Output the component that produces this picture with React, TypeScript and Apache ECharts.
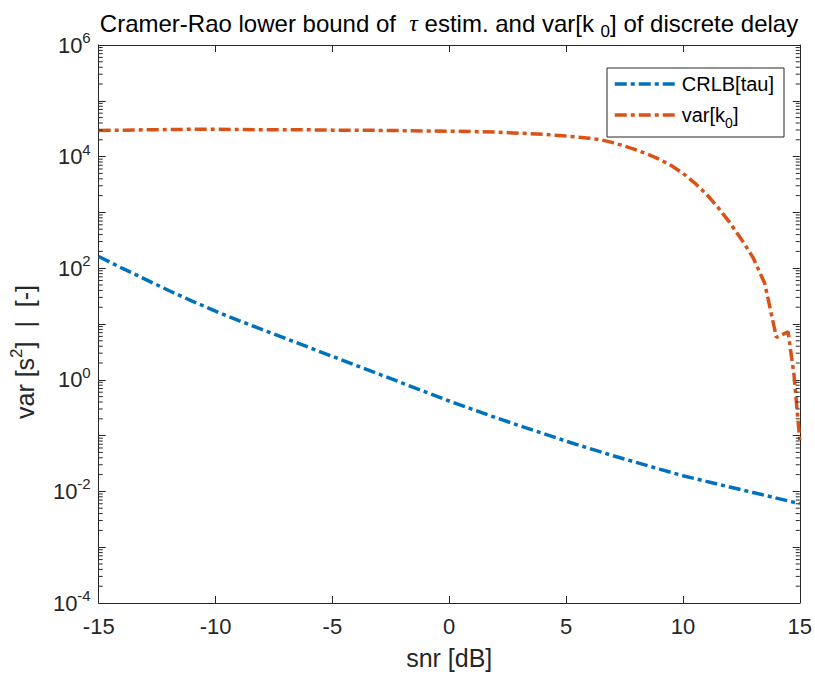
import React, { useEffect, useRef } from 'react';
import * as echarts from 'echarts';

// SNR grid and CRLB of tau
const snrCrlb = [-15, -14, -13, -12, -11, -10, -9, -8, -7, -6, -5, -4, -3, -2, -1, 0, 1, 2, 3, 4, 5, 6, 7, 8, 9, 10, 11, 12, 13, 14, 15];
const crlbTau = [162, 100, 63.1, 39.8, 25.7, 17.0, 11.5, 7.94, 5.5, 3.8, 2.63, 1.82, 1.26, 0.871, 0.603, 0.417, 0.295, 0.209, 0.151, 0.11, 0.0794, 0.0589, 0.0437, 0.0331, 0.0251, 0.0191, 0.0151, 0.012, 0.00955, 0.00759, 0.00603];

// SNR grid and variance of discrete delay k0
const snrK0 = [-15, -14, -13, -12, -11, -10, -9, -8, -7, -6, -5, -4, -3, -2, -1, 0, 1, 2, 3, 4, 5, 6, 6.5, 7, 7.5, 8, 8.5, 9, 9.5, 10, 10.5, 11, 11.5, 12, 12.5, 13, 13.5, 14, 14.5, 14.75, 15];
const varK0 = [29500, 29800, 30200, 30500, 30900, 30900, 30500, 30200, 30200, 30200, 29800, 29800, 29500, 29200, 28800, 28500, 28200, 27500, 26300, 25100, 23400, 21400, 20000, 17800, 15500, 13200, 11000, 8900, 6920, 5010, 3390, 2140, 1230, 661, 331, 155, 53.7, 5.75, 7.24, 1.26, 0.083];

const xTicks = [-15, -10, -5, 0, 5, 10, 15];
const yDecadeMin = -4;
const yDecadeMax = 6;

const FONT = '"Liberation Sans", Arial, Helvetica, sans-serif';
const AX = '#262626';
const BLUE = '#0072BD';
const ORANGE = '#D95319';

export default function App() {
  const ref = useRef<HTMLDivElement>(null);
  useEffect(() => {
    const chart = echarts.init(ref.current!, null, { renderer: 'svg' });
    const minorTicks: number[][] = [];
    for (let e = yDecadeMin; e < yDecadeMax; e++) {
      for (let m = 2; m <= 9; m++) minorTicks.push([xTicks[0], e + Math.log10(m)]);
    }
    const dash = [12, 4, 4, 4];
    chart.setOption({
      animation: false,
      backgroundColor: '#fff',
      title: {
        text: 'Cramer-Rao lower bound of  {it|τ} estim. and var[k {sub|0}] of discrete delay',
        left: 444,
        textAlign: 'center',
        top: 1,
        textStyle: {
          fontFamily: FONT,
          fontSize: 24,
          fontWeight: 'normal',
          color: '#000',
          lineHeight: 34,
          rich: {
            it: { fontFamily: '"Liberation Serif", "DejaVu Serif", serif', fontStyle: 'italic', fontSize: 24, color: '#000' },
            sub: { fontSize: 17, lineHeight: 17, verticalAlign: 'bottom', fontFamily: FONT, color: '#000' },
          },
        },
      },
      legend: {
        orient: 'vertical',
        left: 607,
        top: 68,
        data: ['CRLB[tau]', 'var[k_0]'],
        formatter: (n: string) => (n === 'var[k_0]' ? 'var[k{sub|0}]' : n),
        itemWidth: 62,
        itemHeight: 14,
        itemGap: 1,
        padding: [1, 10, 7, 6],
        borderColor: AX,
        borderWidth: 1,
        backgroundColor: '#fff',
        borderRadius: 0,
        itemStyle: { color: 'rgba(0,0,0,0)', borderWidth: 0, opacity: 0 },
        lineStyle: { width: 3.5 },
        textStyle: {
          fontFamily: FONT,
          fontSize: 20,
          color: '#000',
          lineHeight: 30,
          rich: { sub: { fontSize: 14, lineHeight: 14, verticalAlign: 'bottom', fontFamily: FONT, color: '#000' } },
        },
      },
      grid: { left: 96, right: 14, top: 45, bottom: 72, containLabel: false },
      xAxis: [
        {
          type: 'value', min: -15, max: 15, interval: 5, position: 'bottom',
          axisLine: { show: true, onZero: false, lineStyle: { color: AX, width: 1 } },
          axisTick: { show: true, inside: true, length: 7, lineStyle: { color: AX } },
          axisLabel: { color: AX, fontSize: 22, fontFamily: FONT, margin: 12 },
          splitLine: { show: false },
          name: 'snr [dB]', nameLocation: 'middle', nameGap: 42,
          nameTextStyle: { color: AX, fontSize: 25, fontFamily: FONT },
        },
        {
          type: 'value', min: -15, max: 15, interval: 5, position: 'top',
          axisLine: { show: true, onZero: false, lineStyle: { color: AX, width: 1 } },
          axisTick: { show: true, inside: true, length: 7, lineStyle: { color: AX } },
          axisLabel: { show: false }, splitLine: { show: false },
        },
      ],
      yAxis: [
        {
          type: 'value', min: yDecadeMin, max: yDecadeMax, interval: 1, position: 'left',
          axisLine: { show: true, onZero: false, lineStyle: { color: AX, width: 1 } },
          axisTick: { show: true, inside: true, length: 7, lineStyle: { color: AX } },
          axisLabel: {
            color: AX, fontSize: 22, fontFamily: FONT, margin: 8,
            formatter: (v: number) => (Math.round(v) % 2 === 0 ? `10{sup|${Math.round(v)}}` : ''),
            rich: { sup: { fontSize: 15, lineHeight: 15, verticalAlign: 'top', color: AX, fontFamily: FONT } },
            lineHeight: 30,
          },
          splitLine: { show: false },
          name: 'var [s{sup|2}]  |  [-]', nameLocation: 'middle', nameGap: 46, nameRotate: 90,
          nameTextStyle: {
            color: AX, fontSize: 25, fontFamily: FONT, lineHeight: 34,
            padding: [0, 56, 0, 0],
            rich: { sup: { fontSize: 17, lineHeight: 17, verticalAlign: 'top', color: AX, fontFamily: FONT } },
          },
        },
        {
          type: 'value', min: yDecadeMin, max: yDecadeMax, interval: 1, position: 'right',
          axisLine: { show: true, onZero: false, lineStyle: { color: AX, width: 1 } },
          axisTick: { show: true, inside: true, length: 7, lineStyle: { color: AX } },
          axisLabel: { show: false }, splitLine: { show: false },
        },
      ],
      series: [
        {
          name: 'CRLB[tau]', type: 'line', xAxisIndex: 0, yAxisIndex: 0,
          data: snrCrlb.map((x, i) => [x, Math.log10(crlbTau[i])]),
          symbol: 'none', showSymbol: false,
          lineStyle: { color: BLUE, width: 3.5, type: dash },
          itemStyle: { color: BLUE },
        },
        {
          name: 'var[k_0]', type: 'line', xAxisIndex: 0, yAxisIndex: 0,
          data: snrK0.map((x, i) => [x, Math.log10(varK0[i])]),
          symbol: 'none', showSymbol: false,
          lineStyle: { color: ORANGE, width: 3.5, type: dash },
          itemStyle: { color: ORANGE },
        },
        {
          type: 'custom', xAxisIndex: 0, yAxisIndex: 0, silent: true, z: 5,
          data: minorTicks,
          renderItem: (params: any, api: any) => {
            const y = api.value(1);
            const l = api.coord([-15, y]);
            const r = api.coord([15, y]);
            return {
              type: 'group',
              children: [
                { type: 'line', shape: { x1: l[0], y1: l[1], x2: l[0] + 4, y2: l[1] }, style: { stroke: AX, lineWidth: 1 } },
                { type: 'line', shape: { x1: r[0] - 4, y1: r[1], x2: r[0], y2: r[1] }, style: { stroke: AX, lineWidth: 1 } },
              ],
            };
          },
        },
      ],
    });
    return () => chart.dispose();
  }, []);
  return <div ref={ref} style={{ position: 'fixed', left: 0, top: 0, width: 815, height: 675 }} />;
}
